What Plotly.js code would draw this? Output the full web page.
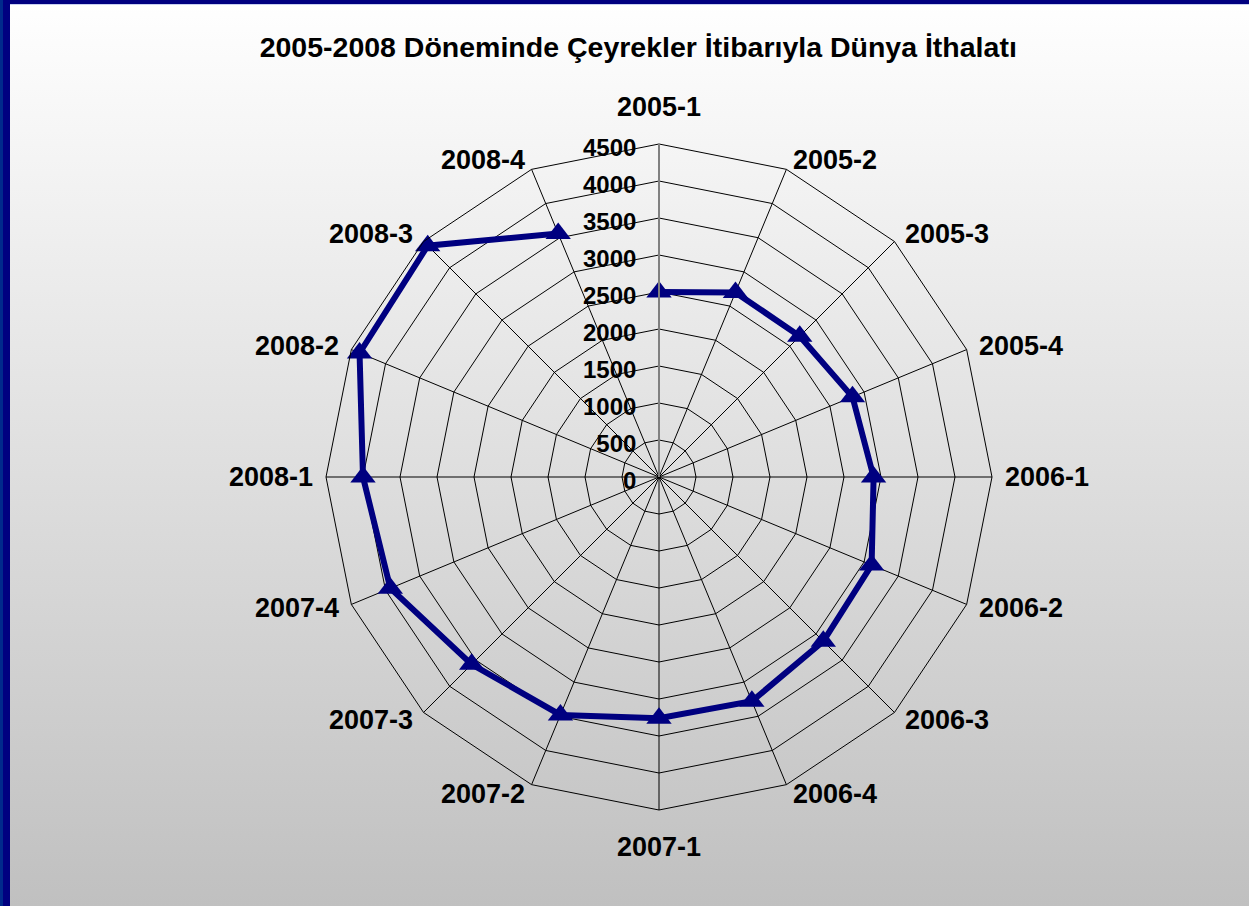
<!DOCTYPE html>
<html>
<head>
<meta charset="utf-8">
<script src="https://cdn.plot.ly/plotly-3.0.1.min.js"></script>
<style>
  html, body { margin: 0; padding: 0; }
  #frame {
    position: relative; width: 1249px; height: 906px; overflow: hidden;
    background: linear-gradient(to bottom, #ffffff 0%, #c0c0c0 100%);
  }
  #topbar { position: absolute; left: 0; top: 0; width: 1249px; height: 4px; background: #000080; }
  #topline { position: absolute; left: 0; top: 4px; width: 1249px; height: 1px; background: #c8d0f0; }
  #leftbar1 { position: absolute; left: 0; top: 0; width: 3px; height: 906px; background: #002a8c; }
  #leftbar2 { position: absolute; left: 3px; top: 0; width: 7px; height: 906px; background: #000080; }
  #chart { position: absolute; left: 0; top: 0; width: 1249px; height: 906px; }
</style>
</head>
<body>
<div id="frame">
  <div id="chart"></div>
  <div id="topbar"></div>
  <div id="topline"></div>
  <div id="leftbar1"></div>
  <div id="leftbar2"></div>
</div>
<script>
const categories = ["2005-1","2005-2","2005-3","2005-4","2006-1","2006-2","2006-3","2006-4",
                    "2007-1","2007-2","2007-3","2007-4","2008-1","2008-2","2008-3","2008-4"];
const imports = [2500, 2700, 2690, 2830, 2900, 3110, 3140, 3280,
                 3260, 3480, 3580, 3930, 4000, 4380, 4420, 3560];
const tickValues = [0, 500, 1000, 1500, 2000, 2500, 3000, 3500, 4000, 4500];
const chartTitle = "2005-2008 Döneminde Çeyrekler İtibarıyla Dünya İthalatı";

const W = 1249, H = 906;
const M = { l: 326, r: 257, t: 144, b: 96 };
const plotW = W - M.l - M.r, plotH = H - M.t - M.b;
const FONT = "Liberation Sans, Arial, sans-serif";

// Category labels placed around the polygon (Excel-like placement), computed from geometry
const labelRadius = plotW / 2 + 10;     // px from centre
const halfLabelW = 45;                  // horizontal offset for side labels
const vertExtra = 27;                   // extra offset for top/bottom labels
const annotations = categories.map((c, i) => {
  const th = i * 2 * Math.PI / categories.length;
  const s = Math.sin(th), co = Math.cos(th);
  const sgnS = Math.abs(s) < 1e-6 ? 0 : Math.sign(s);
  const sgnC = Math.abs(s) < 1e-6 ? Math.sign(co) : 0;
  const dxPx = labelRadius * s + halfLabelW * sgnS;
  const dyPx = labelRadius * co + vertExtra * sgnC;
  return {
    text: c, showarrow: false, xref: "paper", yref: "paper",
    x: 0.5 + dxPx / plotW, y: 0.5 + dyPx / plotH,
    xanchor: "center", yanchor: "middle",
    font: { family: FONT, size: 27, color: "#000000", weight: "bold" }
  };
});

const trace = {
  type: "scatterpolar",
  r: imports,
  theta: categories,
  mode: "lines+markers",
  line: { color: "#000080", width: 6 },
  marker: { symbol: "triangle-up", size: 22, color: "#000080" },
  showlegend: false
};

const layout = {
  width: W, height: H,
  paper_bgcolor: "rgba(0,0,0,0)",
  plot_bgcolor: "rgba(0,0,0,0)",
  margin: M,
  title: {
    text: chartTitle,
    x: 0.511, xanchor: "center",
    y: 0.948, yanchor: "middle",
    font: { family: FONT, size: 28.5, color: "#000000", weight: "bold" }
  },
  annotations: annotations,
  polar: {
    bgcolor: "rgba(0,0,0,0)",
    gridshape: "linear",
    domain: { x: [0, 1], y: [0, 1] },
    radialaxis: {
      range: [0, 4500],
      tickvals: tickValues,
      ticktext: tickValues.map(String),
      angle: 90,
      side: "counterclockwise",
      showline: true,
      linecolor: "#808080",
      linewidth: 2,
      gridcolor: "#000000",
      gridwidth: 1,
      ticks: "",
      tickfont: { family: FONT, size: 24, color: "#000000", weight: "bold" }
    },
    angularaxis: {
      type: "category",
      categoryarray: categories,
      categoryorder: "array",
      direction: "clockwise",
      rotation: 90,
      showline: true,
      linecolor: "#000000",
      linewidth: 1,
      gridcolor: "#000000",
      gridwidth: 1,
      ticks: "",
      showticklabels: false
    }
  }
};

Plotly.newPlot("chart", [trace], layout, { displayModeBar: false });
</script>
</body>
</html>
